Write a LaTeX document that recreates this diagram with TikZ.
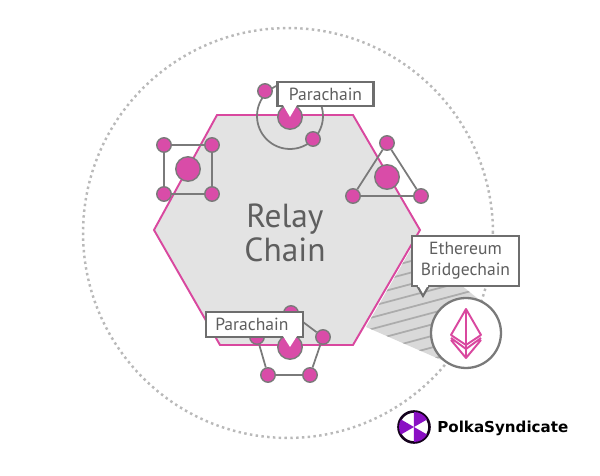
\documentclass[tikz,border=0pt]{standalone}
\usepackage{fontspec}
\setmainfont{PT Sans}
\newfontfamily\logofont{DejaVu Sans}
\definecolor{pinkdot}{HTML}{D94CA8}
\definecolor{hexpink}{HTML}{D9489F}
\definecolor{hexgray}{HTML}{E3E3E3}
\definecolor{linegray}{HTML}{7A7A7A}
\definecolor{textgray}{HTML}{5E5E5E}
\definecolor{logopurple}{HTML}{8A0FC4}
\tikzset{
  chaindot/.style={circle, draw=linegray, line width=0.8pt, fill=pinkdot, minimum size=0.29cm, inner sep=0pt},
  hubdot/.style={circle, draw=linegray, line width=0.8pt, fill=pinkdot, minimum size=0.49cm, inner sep=0pt},
  chainlink/.style={draw=linegray, line width=1pt},
  tagbox/.style={draw=textgray!90, line width=1.2pt, fill=white, text=textgray, inner sep=0pt, align=center, font=\fontsize{10}{12}\selectfont},
}
\begin{document}
\begin{tikzpicture}[x=0.02cm, y=-0.02cm]
  \useasboundingbox (0, 0) rectangle (600, 476);
  \draw[gray!55, line width=1.4pt, dash pattern=on 1.4pt off 1.9pt] (288, 233) circle [radius=4.1cm];
  % relay chain
  \draw[hexpink, fill=hexgray, line width=1.1pt] (217, 115) -- (353, 115) -- (420, 230) -- (353, 345) -- (220, 345) -- (154, 230) -- cycle;
  \node[text=textgray, font=\fontsize{19}{19}\selectfont, align=center] (relay) at (285, 233) {Relay\\Chain};
  % bridge stripes
  \begin{scope}
    \clip (411, 249) -- (366, 327) -- (446, 362) -- (482, 302) -- (440, 268) -- cycle;
    \fill[gray!30] (360, 240) rectangle (490, 370);
    \foreach \i in {0, ..., 15}
      \draw[gray!65, line width=1pt] (340, 280 + \i * 11.5) -- (520, 232 + \i * 11.5);
  \end{scope}
  % square chain
  \node[hubdot] (sqhub) at (188, 169) {};
  \node[chaindot] (sqa) at (164, 145) {};
  \node[chaindot] (sqb) at (212, 145) {};
  \node[chaindot] (sqc) at (212, 194) {};
  \node[chaindot] (sqd) at (164, 194) {};
  \draw[chainlink] (sqa) -- (sqb) -- (sqc) -- (sqd) -- (sqa);
  % triangle chain
  \node[hubdot] (trihub) at (387, 177) {};
  \node[chaindot] (tria) at (387, 143) {};
  \node[chaindot] (trib) at (421, 196) {};
  \node[chaindot] (tric) at (353, 196) {};
  \draw[chainlink] (tria) -- (trib) -- (tric) -- (tria);
  % ring chain
  \draw[chainlink] (290, 116) circle [radius=0.66cm];
  \node[hubdot] (ringhub) at (290, 117) {};
  \node[chaindot] (ringa) at (265, 91) {};
  \node[chaindot] (ringb) at (313, 139) {};
  \node[tagbox, minimum width=1.92cm, minimum height=0.48cm] (parachaina) at (325.5, 94) {Parachain};
  \fill[white] (283, 105) -- (290, 117) -- (297, 105) -- cycle;
  % pentagon chain
  \node[hubdot] (penthub) at (290, 347) {};
  \node[chaindot] (penta) at (291, 313) {};
  \node[chaindot] (pentb) at (323, 337) {};
  \node[chaindot] (pentc) at (310, 375) {};
  \node[chaindot] (pentd) at (268, 375) {};
  \node[chaindot] (pente) at (257, 337) {};
  \draw[chainlink] (penta) -- (pentb) -- (pentc) -- (pentd) -- (pente) -- (penta);
  \node[tagbox, minimum width=1.94cm, minimum height=0.5cm] (parachainb) at (254.5, 324.5) {Parachain\hspace{3pt}};
  \fill[white] (283, 336) -- (290, 347) -- (297, 336) -- cycle;
  % bridge
  \node[circle, draw=linegray, line width=1.3pt, fill=white, minimum size=1.4cm, inner sep=0pt] (bridge) at (466, 333) {};
  \draw[hexpink, line width=1.1pt, line join=round] (466, 309) -- (481, 335) -- (466, 345) -- (451, 335) -- cycle
    (466, 309) -- (466, 358) (451, 340) -- (466, 358) -- (481, 340) (451, 338) -- (466, 349) -- (481, 338);
  \node[tagbox, minimum width=2.14cm, minimum height=1cm] (ethereum) at (465.5, 261) {Ethereum\\Bridgechain};
  \fill[white, draw=textgray!90, line width=1.2pt] (417, 285.5) -- (423, 296) -- (429, 285.5);
  \fill[white] (418, 285) rectangle (428, 287);
  % logo
  \node[circle, fill=white, draw=black!85!logopurple, line width=1.5pt, minimum size=0.62cm, inner sep=0pt] (logo) at (414, 427) {};
  \foreach \a in {30, 150, 270}
    \fill[logopurple] (logo.center) -- ++(\a:0.3cm) arc (\a:\a+60:0.3cm) -- cycle;
  \node[anchor=west, inner sep=0pt, font=\logofont\bfseries\fontsize{8.6}{11}\selectfont] (name) at (437, 428) {PolkaSyndicate};
\end{tikzpicture}
\end{document}
